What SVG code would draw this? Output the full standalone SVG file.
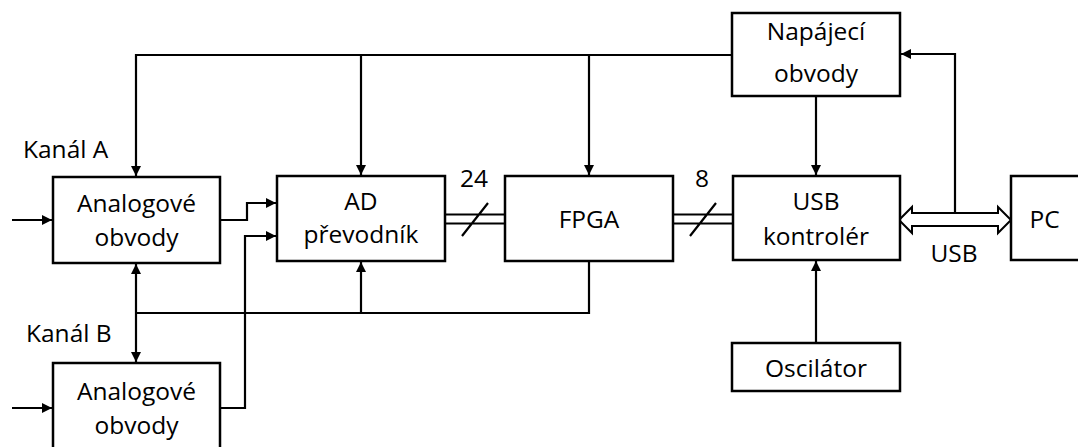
<svg xmlns="http://www.w3.org/2000/svg" width="1078" height="447" viewBox="0 0 1078 447">
<style>
.box{fill:#fff;stroke:#000;stroke-width:2.5}
.c{fill:none;stroke:#000;stroke-width:2.2}
text{font-family:"Open Sans","Liberation Sans",sans-serif;font-size:24.5px;fill:#000}
.m{text-anchor:middle}
</style>
<defs>
<marker id="ah" markerUnits="userSpaceOnUse" markerWidth="10" markerHeight="10" refX="10" refY="5" orient="auto" viewBox="0 0 10 10">
<path d="M0,0 L10,5 L0,10 z" fill="#000"/>
</marker>
</defs>
<rect width="1078" height="447" fill="#fff"/>
<g id="connectors">
<path class="c" d="M732,55 H136 V176" marker-end="url(#ah)"/>
<path class="c" d="M361,55 V175" marker-end="url(#ah)"/>
<path class="c" d="M589,55 V175" marker-end="url(#ah)"/>
<path class="c" d="M12,220 H52" marker-end="url(#ah)"/>
<path class="c" d="M12,408 H52" marker-end="url(#ah)"/>
<path class="c" d="M220,220 H247 V203 H276" marker-end="url(#ah)"/>
<path class="c" d="M220,408 H245 V236 H276" marker-end="url(#ah)"/>
<path class="c" d="M589,261 V313 H136"/>
<path class="c" d="M136,313 V264" marker-end="url(#ah)"/>
<path class="c" d="M136,313 V362" marker-end="url(#ah)"/>
<path class="c" d="M361,313 V262" marker-end="url(#ah)"/>
<path class="c" d="M816,96 V175" marker-end="url(#ah)"/>
<path class="c" d="M816,343 V261" marker-end="url(#ah)"/>
<path class="c" d="M955,213 V54 H901" marker-end="url(#ah)"/>
<path class="c" d="M445,214.5 H505 M445,223.5 H505 M462,236 L488,203"/>
<path class="c" d="M673,214.5 H733 M673,223.5 H733 M690,236 L716,203"/>
<polygon points="899,220 912,207 912,213 998,213 998,207 1011,220 998,233 998,226 912,226 912,233" fill="#fff" stroke="#000" stroke-width="2"/>
<text class="m" x="474" y="187">24</text>
<text class="m" x="702" y="187">8</text>
<text class="m" x="954" y="262">USB</text>
</g>
<g id="kanalA"><text x="23" y="158">Kanál A</text></g>
<g id="kanalB"><text x="26" y="342">Kanál B</text></g>
<g id="analogA">
<rect class="box" x="53" y="177" width="167" height="86"/>
<text class="m" x="136.5" y="212">Analogové</text>
<text class="m" x="136.5" y="246">obvody</text>
</g>
<g id="analogB">
<rect class="box" x="53" y="363" width="167" height="100"/>
<text class="m" x="136.5" y="400">Analogové</text>
<text class="m" x="136.5" y="434">obvody</text>
</g>
<g id="ad">
<rect class="box" x="277" y="176" width="168" height="85"/>
<text class="m" x="361" y="210">AD</text>
<text class="m" x="361" y="243">převodník</text>
</g>
<g id="fpga">
<rect class="box" x="505" y="176" width="168" height="85"/>
<text class="m" x="589" y="228">FPGA</text>
</g>
<g id="usb">
<rect class="box" x="733" y="176" width="167" height="84"/>
<text class="m" x="816" y="210">USB</text>
<text class="m" x="816" y="245">kontrolér</text>
</g>
<g id="napajeci">
<rect class="box" x="732" y="13" width="168" height="83"/>
<text class="m" x="816" y="40">Napájecí</text>
<text class="m" x="816" y="82">obvody</text>
</g>
<g id="pc">
<rect class="box" x="1011" y="176" width="80" height="84"/>
<text class="m" x="1044.5" y="228">PC</text>
</g>
<g id="oscilator">
<rect class="box" x="732" y="343" width="168" height="48"/>
<text class="m" x="816" y="377">Oscilátor</text>
</g>
</svg>
